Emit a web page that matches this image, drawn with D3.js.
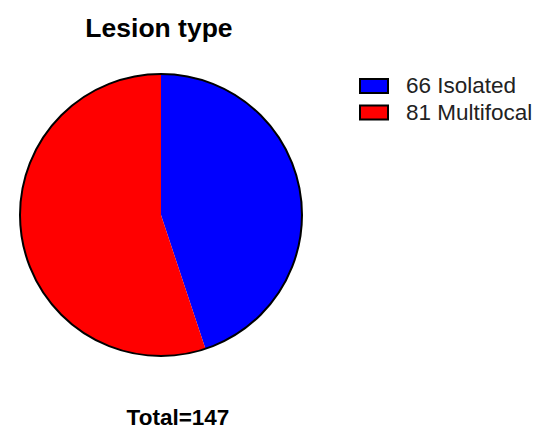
<!DOCTYPE html>
<html>
<head>
<meta charset="utf-8">
<script src="https://cdn.jsdelivr.net/npm/d3@7"></script>
<style>
  body { margin: 0; background: #fff; }
  text { font-family: "Liberation Sans", Arial, sans-serif; }
</style>
</head>
<body>
<div id="chart"></div>
<script>
const labels = ["Isolated", "Multifocal"];
const counts = [66, 81];
const colors = ["#0000ff", "#ff0000"];

const width = 550, height = 444;
const cx = 161, cy = 215, radius = 141;

const svg = d3.select("#chart").append("svg")
  .attr("width", width)
  .attr("height", height);

// title
svg.append("text")
  .attr("x", 159).attr("y", 37)
  .attr("text-anchor", "middle")
  .style("font-size", "26.5px").style("font-weight", "bold")
  .text("Lesion type");

const pie = d3.pie().sort(null)(counts);
const arc = d3.arc().innerRadius(0).outerRadius(radius);

const g = svg.append("g").attr("transform", `translate(${cx},${cy})`);
g.selectAll("path")
  .data(pie)
  .enter().append("path")
  .attr("d", arc)
  .attr("fill", (d, i) => colors[i]);

// outline
g.append("circle")
  .attr("r", radius)
  .attr("fill", "none")
  .attr("stroke", "#000")
  .attr("stroke-width", 2);

// legend
const legend = svg.append("g").attr("transform", "translate(360,79)");
const rows = legend.selectAll("g")
  .data(labels)
  .enter().append("g")
  .attr("transform", (d, i) => `translate(0,${i * 26.5})`);

rows.append("rect")
  .attr("width", 28).attr("height", 14)
  .attr("fill", (d, i) => colors[i])
  .attr("stroke", "#000").attr("stroke-width", 2);

rows.append("text")
  .attr("x", 46).attr("y", 14)
  .style("font-size", "22.5px")
  .attr("fill", "#222")
  .text((d, i) => counts[i] + " " + d);

// total
svg.append("text")
  .attr("x", 178).attr("y", 425)
  .attr("text-anchor", "middle")
  .style("font-size", "22.5px").style("font-weight", "bold")
  .text("Total=" + d3.sum(counts));
</script>
</body>
</html>
